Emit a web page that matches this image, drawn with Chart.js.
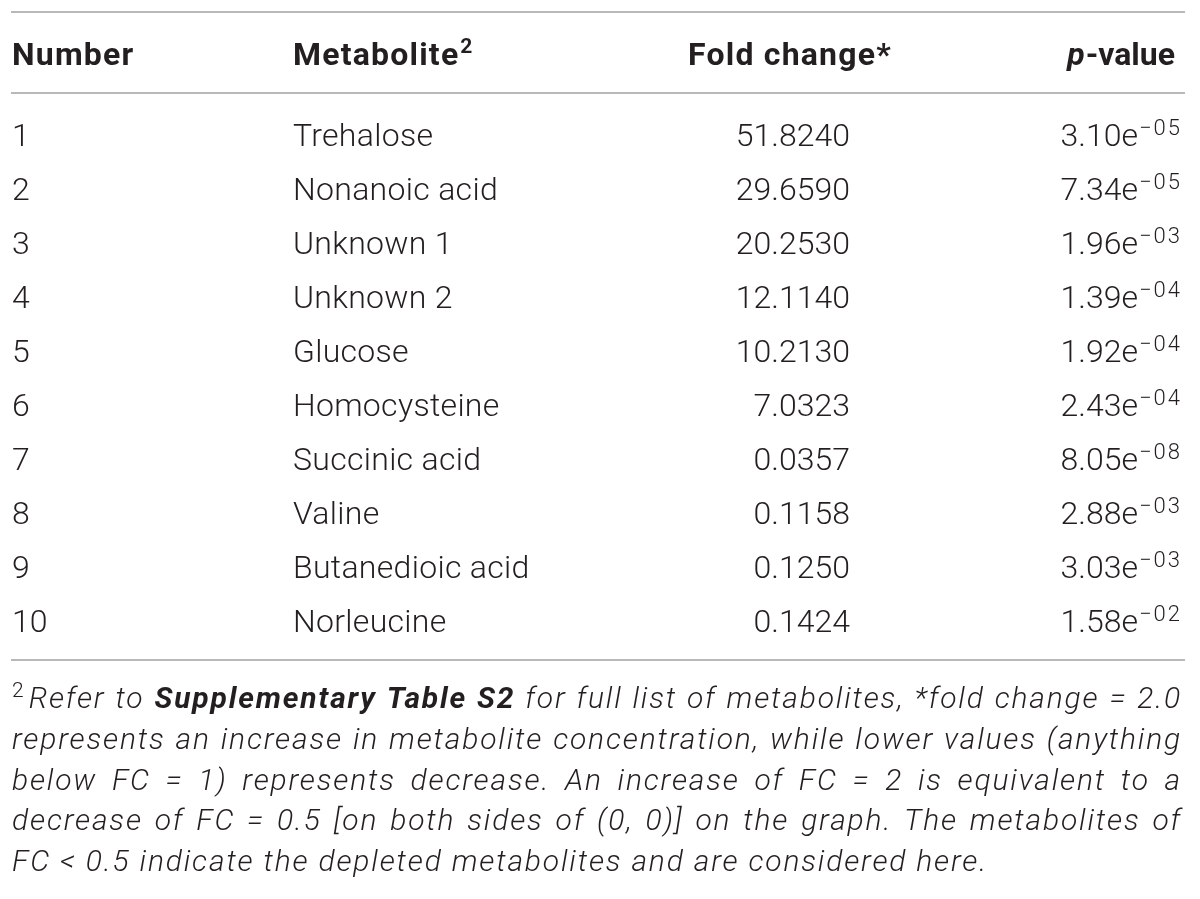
<!DOCTYPE html>
<html>
<head>
<meta charset="utf-8">
<script src="https://cdn.jsdelivr.net/npm/chart.js@4.4.1/dist/chart.umd.min.js"></script>
<style>
  html, body { margin: 0; padding: 0; background: #fff; }
  canvas { display: block; }
</style>
</head>
<body>
<canvas id="tableChart" width="1200" height="899"></canvas>
<script>
// table data
var numbers = [1, 2, 3, 4, 5, 6, 7, 8, 9, 10];
var metabolites = ['Trehalose', 'Nonanoic acid', 'Unknown 1', 'Unknown 2', 'Glucose',
  'Homocysteine', 'Succinic acid', 'Valine', 'Butanedioic acid', 'Norleucine'];
var foldChange = [51.8240, 29.6590, 20.2530, 12.1140, 10.2130, 7.0323, 0.0357, 0.1158, 0.1250, 0.1424];
var pValues = [3.10e-5, 7.34e-5, 1.96e-3, 1.39e-4, 1.92e-4, 2.43e-4, 8.05e-8, 2.88e-3, 3.03e-3, 1.58e-2];
var headers = ['Number', 'Metabolite', 'Fold change*', 'p-value'];
var noteLines = [
  '^2Refer to **Supplementary Table S2** for full list of metabolites, *fold change = 2.0',
  'represents an increase in metabolite concentration, while lower values (anything',
  'below FC = 1) represents decrease. An increase of FC = 2 is equivalent to a',
  'decrease of FC = 0.5 [on both sides of (0, 0)] on the graph. The metabolites of',
  'FC < 0.5 indicate the depleted metabolites and are considered here.'
];

var FAMILY = 'Roboto, "Liberation Sans", sans-serif';
var INK = '#231f20';
var RULE = '#b9b9b9';

// column anchors in x-scale units, header row / rules in y-scale units
var colX = [0, 281, 838, 1168];
var headX = [0, 281, 778, 1163];
var headerRow = -0.5;
var rules = [-1.28, 0.222, 10.72];

function fmtP(v) {
  var s = v.toExponential(2).split('e');
  var e = parseInt(s[1], 10);
  var ex = (e < 0 ? '\u2212' : '') + String(Math.abs(e)).padStart(2, '0');
  return [s[0] + 'e', ex];
}

function parseNote(line) {
  var parts = line.split('**');
  var words = [];
  parts.forEach(function (p, k) {
    p.split(/\s+/).filter(Boolean).forEach(function (w) {
      var segs = [];
      if (w[0] === '^') {
        segs.push({ t: w[1], sup: true });
        w = w.slice(2);
      }
      segs.push({ t: w, bold: k % 2 === 1 });
      words.push(segs);
    });
  });
  return words;
}

var tablePlugin = {
  id: 'tableText',
  afterDraw: function (chart) {
    var ctx = chart.ctx, xs = chart.scales.x, ys = chart.scales.y;
    var area = chart.chartArea;
    var fs = 32;
    var light = '300 ' + fs + 'px ' + FAMILY;
    var bold = '700 ' + fs + 'px ' + FAMILY;
    var sup = '300 22px ' + FAMILY;
    var capOff = Math.round(fs * 0.355);

    ctx.save();
    // rules
    ctx.strokeStyle = RULE;
    ctx.lineWidth = 2;
    rules.forEach(function (r) {
      var yy = Math.round(ys.getPixelForValue(r));
      ctx.beginPath();
      ctx.moveTo(area.left - 1, yy);
      ctx.lineTo(area.right + 3, yy);
      ctx.stroke();
    });

    ctx.fillStyle = INK;
    ctx.textBaseline = 'alphabetic';

    // header
    var hy = ys.getPixelForValue(headerRow) + capOff;
    ctx.font = bold;
    ctx.letterSpacing = '1.2px';
    ctx.textAlign = 'left';
    ctx.fillText(headers[0], xs.getPixelForValue(headX[0]), hy);
    var mx = xs.getPixelForValue(headX[1]);
    ctx.fillText(headers[1], mx, hy);
    var mw = ctx.measureText(headers[1]).width;
    ctx.letterSpacing = '0px';
    ctx.font = '700 21px ' + FAMILY;
    ctx.fillText('2', mx + mw + 1, hy - 12);
    ctx.font = bold;
    ctx.letterSpacing = '1.2px';
    ctx.textAlign = 'center';
    ctx.fillText(headers[2], xs.getPixelForValue(headX[2]), hy);
    ctx.letterSpacing = '0px';
    // p-value with italic p
    var pr = xs.getPixelForValue(headX[3]);
    ctx.textAlign = 'left';
    var rest = headers[3].slice(1);
    var rw = ctx.measureText(rest).width;
    ctx.font = 'italic 700 ' + fs + 'px ' + FAMILY;
    var pw = ctx.measureText('p').width;
    ctx.fillText('p', pr - rw - pw - 1, hy);
    ctx.font = bold;
    ctx.fillText(rest, pr - rw, hy);

    // body cells: positions come from the dataset points
    var metas = [0, 1, 2, 3].map(function (d) { return chart.getDatasetMeta(d).data; });
    numbers.forEach(function (n, i) {
      ctx.font = light;
      ctx.textAlign = 'left';
      var p0 = metas[0][i], p1 = metas[1][i], p2 = metas[2][i], p3 = metas[3][i];
      ctx.fillText(String(n), p0.x, p0.y + capOff);
      ctx.letterSpacing = '0.3px';
      ctx.fillText(metabolites[i], p1.x, p1.y + capOff);
      ctx.letterSpacing = '0px';
      ctx.textAlign = 'right';
      ctx.fillText(foldChange[i].toFixed(4), p2.x, p2.y + capOff);
      var pv = fmtP(pValues[i]);
      ctx.font = sup;
      ctx.textAlign = 'left';
      var sw = ctx.measureText(pv[1]).width + 2 * (pv[1].length - 1);
      ctx.letterSpacing = '2px';
      ctx.fillText(pv[1], p3.x - sw, p3.y + capOff - 11);
      ctx.letterSpacing = '0px';
      ctx.font = light;
      ctx.textAlign = 'right';
      ctx.fillText(pv[0], p3.x - sw - 1, p3.y + capOff);
    });

    // footnote, justified
    var left = area.left, right = area.right;
    var base0 = area.bottom + 48, lead = 40.75;
    ctx.textAlign = 'left';
    var nfs = 30;
    var fIt = 'italic 300 ' + nfs + 'px ' + FAMILY;
    var fBd = 'italic 700 ' + nfs + 'px ' + FAMILY;
    var fSup = '300 21px ' + FAMILY;
    var lastLine = noteLines[noteLines.length - 1];
    ctx.letterSpacing = '0px';
    ctx.font = fIt;
    var ls = (976 - ctx.measureText(lastLine).width) / lastLine.length;
    ls = Math.max(0, Math.min(2.5, ls));
    function segFont(s) { return s.sup ? fSup : (s.bold ? fBd : fIt); }
    function segW(s) {
      ctx.letterSpacing = '0px';
      ctx.font = segFont(s);
      if (s.sup) return ctx.measureText(s.t).width + 5;
      return ctx.measureText(s.t).width + ls * s.t.length;
    }

    noteLines.forEach(function (line, li) {
      var words = parseNote(line);
      var widths = words.map(function (w) {
        return w.reduce(function (a, s) { return a + segW(s); }, 0);
      });
      var total = widths.reduce(function (a, b) { return a + b; }, 0);
      ctx.letterSpacing = '0px';
      ctx.font = fIt;
      var gap = ctx.measureText(' ').width + ls;
      if (li < noteLines.length - 1 && words.length > 1) {
        gap = (right - left - total) / (words.length - 1);
      }
      var xx = left, by = base0 + li * lead;
      words.forEach(function (w, wi) {
        var sx = xx;
        w.forEach(function (s) {
          var adv = segW(s);
          ctx.font = segFont(s);
          ctx.letterSpacing = s.sup ? '0px' : ls.toFixed(2) + 'px';
          ctx.fillText(s.t, sx, s.sup ? by - 11 : by);
          sx += adv;
        });
        xx += widths[wi] + gap;
      });
    });
    ctx.letterSpacing = '0px';
    ctx.restore();
  }
};

var cellData = function (xPos) {
  return numbers.map(function (n, i) { return { x: xPos, y: i + 1 }; });
};

var ctx = document.getElementById('tableChart').getContext('2d');
var tableChart = new Chart(ctx, {
  type: 'scatter',
  data: {
    datasets: colX.map(function (cx, k) {
      return { label: headers[k], data: cellData(cx), pointRadius: 0, showLine: false };
    })
  },
  options: {
    responsive: false,
    animation: false,
    devicePixelRatio: 1,
    events: [],
    layout: { padding: { left: 12, right: 18, top: 12, bottom: 239 } },
    plugins: {
      legend: { display: false },
      tooltip: { enabled: false }
    },
    scales: {
      x: { type: 'linear', min: 0, max: 1170, display: false },
      y: { type: 'linear', min: rules[0], max: rules[2], reverse: true, display: false }
    }
  },
  plugins: [tablePlugin]
});
</script>
</body>
</html>
